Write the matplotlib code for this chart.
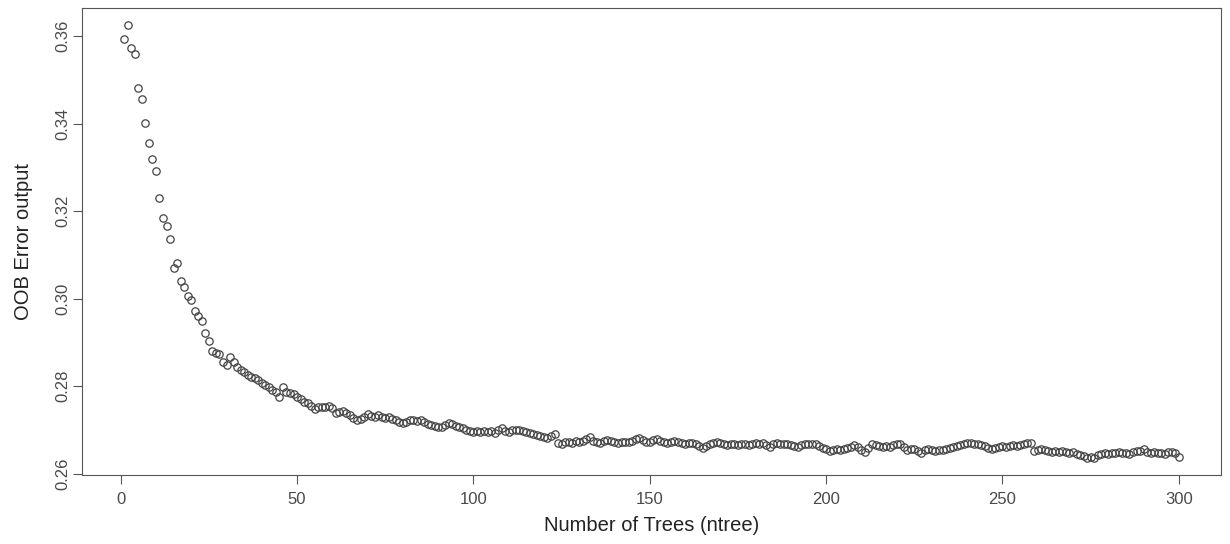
import numpy as np
import matplotlib.pyplot as plt

plt.rcParams['font.family'] = ['Liberation Sans', 'DejaVu Sans']

# OOB error, one value per ntree = 1..300
oob_error = [
    0.3594, 0.3624, 0.3573, 0.3559, 0.3482, 0.3456, 0.3402, 0.3355, 0.3319, 0.3291,
    0.3229, 0.3185, 0.3166, 0.3136, 0.3071, 0.3081, 0.3040, 0.3027, 0.3005, 0.2996,
    0.2971, 0.2960, 0.2949, 0.2921, 0.2903, 0.2881, 0.2876, 0.2873, 0.2856, 0.2848,
    0.2866, 0.2856, 0.2845, 0.2837, 0.2833, 0.2826, 0.2822, 0.2818, 0.2814, 0.2807,
    0.2803, 0.2799, 0.2791, 0.2788, 0.2775, 0.2799, 0.2788, 0.2785, 0.2782, 0.2776,
    0.2770, 0.2765, 0.2761, 0.2754, 0.2748, 0.2752, 0.2752, 0.2752, 0.2755, 0.2750,
    0.2738, 0.2742, 0.2744, 0.2738, 0.2735, 0.2727, 0.2723, 0.2725, 0.2730, 0.2736,
    0.2733, 0.2729, 0.2734, 0.2730, 0.2727, 0.2729, 0.2725, 0.2722, 0.2719, 0.2716,
    0.2718, 0.2722, 0.2723, 0.2721, 0.2722, 0.2719, 0.2714, 0.2712, 0.2709, 0.2707,
    0.2708, 0.2712, 0.2716, 0.2714, 0.2710, 0.2707, 0.2705, 0.2701, 0.2698, 0.2696,
    0.2697, 0.2695, 0.2697, 0.2695, 0.2697, 0.2694, 0.2700, 0.2705, 0.2698, 0.2696,
    0.2699, 0.2701, 0.2699, 0.2697, 0.2695, 0.2693, 0.2691, 0.2689, 0.2686, 0.2684,
    0.2682, 0.2686, 0.2691, 0.2671, 0.2668, 0.2672, 0.2673, 0.2670, 0.2674, 0.2672,
    0.2676, 0.2680, 0.2684, 0.2676, 0.2672, 0.2671, 0.2675, 0.2678, 0.2676, 0.2673,
    0.2671, 0.2673, 0.2672, 0.2673, 0.2676, 0.2680, 0.2682, 0.2677, 0.2673, 0.2673,
    0.2677, 0.2680, 0.2676, 0.2672, 0.2671, 0.2673, 0.2675, 0.2673, 0.2670, 0.2669,
    0.2671, 0.2670, 0.2668, 0.2663, 0.2659, 0.2664, 0.2668, 0.2671, 0.2673, 0.2670,
    0.2667, 0.2666, 0.2668, 0.2668, 0.2666, 0.2668, 0.2668, 0.2666, 0.2669, 0.2670,
    0.2668, 0.2670, 0.2665, 0.2662, 0.2667, 0.2670, 0.2668, 0.2667, 0.2668, 0.2666,
    0.2664, 0.2662, 0.2665, 0.2668, 0.2668, 0.2667, 0.2669, 0.2664, 0.2659, 0.2656,
    0.2653, 0.2655, 0.2656, 0.2654, 0.2657, 0.2659, 0.2662, 0.2666, 0.2662, 0.2655,
    0.2650, 0.2660, 0.2668, 0.2665, 0.2664, 0.2662, 0.2663, 0.2662, 0.2665, 0.2668,
    0.2669, 0.2661, 0.2655, 0.2657, 0.2656, 0.2652, 0.2648, 0.2654, 0.2657, 0.2655,
    0.2653, 0.2655, 0.2654, 0.2656, 0.2660, 0.2662, 0.2664, 0.2666, 0.2668, 0.2670,
    0.2671, 0.2669, 0.2667, 0.2666, 0.2664, 0.2660, 0.2657, 0.2659, 0.2662, 0.2664,
    0.2662, 0.2664, 0.2665, 0.2663, 0.2666, 0.2668, 0.2670, 0.2671, 0.2652, 0.2655,
    0.2657, 0.2655, 0.2653, 0.2650, 0.2652, 0.2650, 0.2651, 0.2649, 0.2648, 0.2650,
    0.2645, 0.2643, 0.2640, 0.2637, 0.2638, 0.2637, 0.2643, 0.2646, 0.2648, 0.2646,
    0.2648, 0.2647, 0.2649, 0.2647, 0.2648, 0.2646, 0.2649, 0.2651, 0.2653, 0.2656,
    0.2650, 0.2648, 0.2649, 0.2647, 0.2648, 0.2646, 0.2649, 0.2650, 0.2647, 0.2638,
]
ntree = np.arange(1, len(oob_error) + 1)

x_ticks = [0, 50, 100, 150, 200, 250, 300]
y_ticks = [0.26, 0.28, 0.30, 0.32, 0.34, 0.36]

fig = plt.figure(figsize=(12.3, 5.44), dpi=100)
ax = fig.add_axes([0.0667, 0.127, 0.926, 0.858])

ax.plot(ntree, oob_error, 'o', mfc='none', mec='#444444', mew=0.9, ms=5.3)
ax.margins(x=0.04, y=0.04)

ax.set_xticks(x_ticks)
ax.set_yticks(y_ticks)
ax.set_yticklabels(['%.2f' % v for v in y_ticks], rotation=90, va='center')
ax.tick_params(length=6.5, width=0.8, color='#555555', labelcolor='#4a4a4a',
               labelsize=12)
ax.tick_params(axis='x', pad=6)
ax.tick_params(axis='y', pad=2)
for s in ax.spines.values():
    s.set_color('#555555')
    s.set_linewidth(0.8)

ax.set_xlabel('Number of Trees (ntree)', fontsize=14.5, color='#222222', labelpad=6)
ax.set_ylabel('OOB Error output', fontsize=14.5, color='#222222', labelpad=16)

plt.savefig('out.png', dpi=100)
